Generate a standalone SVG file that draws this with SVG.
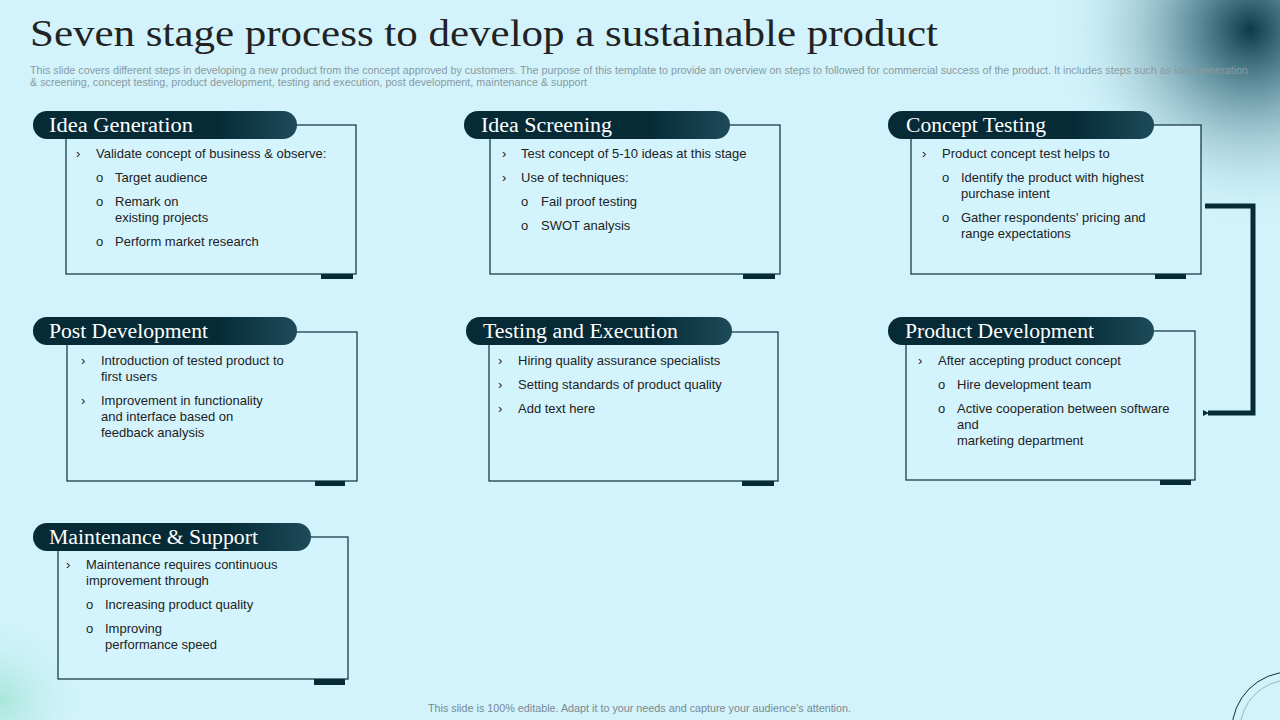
<svg xmlns="http://www.w3.org/2000/svg" width="1280" height="720" viewBox="0 0 1280 720">
<defs>
<radialGradient id="glow" cx="1250" cy="30" r="200" gradientUnits="userSpaceOnUse">
<stop offset="0" stop-color="#0d3a48"/><stop offset="0.35" stop-color="#5e8e9c" stop-opacity="0.8"/><stop offset="1" stop-color="#d2f3fc" stop-opacity="0"/>
</radialGradient>
<radialGradient id="glow2" cx="0" cy="700" r="90" gradientUnits="userSpaceOnUse">
<stop offset="0" stop-color="#a8e6d8"/><stop offset="1" stop-color="#d2f3fc" stop-opacity="0"/>
</radialGradient>
<linearGradient id="pill" x1="0" x2="1"><stop offset="0" stop-color="#062b37"/><stop offset="0.7" stop-color="#062b37"/><stop offset="1" stop-color="#1d4b59"/></linearGradient>
<marker id="arr" markerWidth="6" markerHeight="6" refX="1" refY="3" orient="auto" markerUnits="userSpaceOnUse"><path d="M6,0 L0,3 L6,6 Z" fill="#062b37"/></marker>
<style>
.box{fill:#d4f4fd;stroke:#0a2e3a;stroke-width:1.2}
.tab{fill:#062b37}
.hd{font-family:"Liberation Serif",serif;font-size:20px;fill:#fff}
.t{font-family:"Liberation Sans",Arial,sans-serif;font-size:13px;fill:#222}
</style>
</defs>
<rect width="1280" height="720" fill="#d2f3fc"/>
<rect x="1000" y="0" width="280" height="260" fill="url(#glow)"/>
<rect x="0" y="600" width="120" height="120" fill="url(#glow2)"/>
<circle cx="1290" cy="730" r="58" fill="none" stroke="#0a2e3a" stroke-width="1"/>
<circle cx="1290" cy="730" r="50" fill="none" stroke="#0a2e3a" stroke-width="0.6" opacity="0.5"/>
<text x="30" y="46" font-family="Liberation Serif,serif" font-size="37" fill="#222" textLength="908" lengthAdjust="spacingAndGlyphs">Seven stage process to develop a sustainable product</text>
<text font-family="Liberation Sans,Arial,sans-serif" font-size="10" fill="#8a9aa0"><tspan x="30" y="74" textLength="1218" lengthAdjust="spacingAndGlyphs">This slide covers different steps in developing a new product from the concept approved by customers. The purpose of this template  to provide an overview on steps to followed for commercial success of the product. It includes steps such as idea generation</tspan><tspan x="30" y="86" textLength="557" lengthAdjust="spacingAndGlyphs">&amp; screening, concept testing, product development, testing and execution, post development,  maintenance &amp; support</tspan></text>
<g id="connectors"><path d="M1205,206 H1253 V413 H1208" fill="none" stroke="#062b37" stroke-width="5" marker-end="url(#arr)"/></g>
<g id="n1"><rect class="box" x="66" y="125" width="290" height="149"/><rect class="tab" x="321" y="274" width="32" height="5"/><rect x="33" y="111" width="264" height="28" rx="14" fill="url(#pill)"/><text class="hd" x="49" y="132" textLength="144" lengthAdjust="spacingAndGlyphs">Idea Generation</text>
<text class="t"><tspan x="76" y="158">›</tspan><tspan x="96" y="158">Validate concept of business &amp; observe:</tspan><tspan x="96" y="182">o</tspan><tspan x="115" y="182">Target  audience</tspan><tspan x="96" y="206">o</tspan><tspan x="115" y="206">Remark on</tspan><tspan x="115" y="222">existing projects</tspan><tspan x="96" y="246">o</tspan><tspan x="115" y="246">Perform  market research</tspan></text></g>
<g id="n2"><rect class="box" x="490" y="125" width="290" height="149"/><rect class="tab" x="743" y="274" width="32" height="5"/><rect x="464" y="111" width="266" height="28" rx="14" fill="url(#pill)"/><text class="hd" x="481" y="132" textLength="131" lengthAdjust="spacingAndGlyphs">Idea Screening</text>
<text class="t"><tspan x="502" y="158">›</tspan><tspan x="521" y="158">Test concept of 5-10 ideas at this stage</tspan><tspan x="502" y="182">›</tspan><tspan x="521" y="182">Use of techniques:</tspan><tspan x="521" y="206">o</tspan><tspan x="541" y="206">Fail proof testing</tspan><tspan x="521" y="230">o</tspan><tspan x="541" y="230">SWOT analysis</tspan></text></g>
<g id="n3"><rect class="box" x="911" y="125" width="290" height="149"/><rect class="tab" x="1155" y="274" width="31" height="5"/><rect x="888" y="111" width="266" height="28" rx="14" fill="url(#pill)"/><text class="hd" x="906" y="132" textLength="140" lengthAdjust="spacingAndGlyphs">Concept Testing</text>
<text class="t"><tspan x="922" y="158">›</tspan><tspan x="942" y="158">Product concept test helps to</tspan><tspan x="942" y="182">o</tspan><tspan x="961" y="182">Identify the product with highest</tspan><tspan x="961" y="198">purchase intent</tspan><tspan x="942" y="222">o</tspan><tspan x="961" y="222">Gather respondents' pricing and</tspan><tspan x="961" y="238">range expectations</tspan></text></g>
<g id="n4"><rect class="box" x="67" y="332" width="290" height="149"/><rect class="tab" x="315" y="481" width="30" height="5"/><rect x="33" y="317" width="264" height="28" rx="14" fill="url(#pill)"/><text class="hd" x="49" y="338" textLength="159" lengthAdjust="spacingAndGlyphs">Post Development</text>
<text class="t"><tspan x="81" y="365">›</tspan><tspan x="101" y="365">Introduction  of tested product to</tspan><tspan x="101" y="381">first users</tspan><tspan x="81" y="405">›</tspan><tspan x="101" y="405">Improvement  in functionality</tspan><tspan x="101" y="421">and interface based on</tspan><tspan x="101" y="437">feedback analysis</tspan></text></g>
<g id="n5"><rect class="box" x="489" y="332" width="289" height="149"/><rect class="tab" x="742" y="481" width="32" height="5"/><rect x="466" y="317" width="266" height="28" rx="14" fill="url(#pill)"/><text class="hd" x="483" y="338" textLength="195" lengthAdjust="spacingAndGlyphs">Testing and Execution</text>
<text class="t"><tspan x="498" y="365">›</tspan><tspan x="518" y="365">Hiring quality assurance specialists</tspan><tspan x="498" y="389">›</tspan><tspan x="518" y="389">Setting standards of product quality</tspan><tspan x="498" y="413">›</tspan><tspan x="518" y="413">Add text here</tspan></text></g>
<g id="n6"><rect class="box" x="906" y="331" width="289" height="149"/><rect class="tab" x="1160" y="480" width="31" height="5"/><rect x="888" y="317" width="266" height="28" rx="14" fill="url(#pill)"/><text class="hd" x="905" y="338" textLength="189" lengthAdjust="spacingAndGlyphs">Product Development</text>
<text class="t"><tspan x="918" y="365">›</tspan><tspan x="938" y="365">After accepting product concept</tspan><tspan x="938" y="389">o</tspan><tspan x="957" y="389">Hire development  team</tspan><tspan x="938" y="413">o</tspan><tspan x="957" y="413">Active cooperation between software</tspan><tspan x="957" y="429">and</tspan><tspan x="957" y="445">marketing department</tspan></text></g>
<g id="n7"><rect class="box" x="58" y="537" width="290" height="142"/><rect class="tab" x="314" y="679" width="31" height="6"/><rect x="33" y="523" width="278" height="28" rx="14" fill="url(#pill)"/><text class="hd" x="49" y="544" textLength="209" lengthAdjust="spacingAndGlyphs">Maintenance &amp; Support</text>
<text class="t"><tspan x="66" y="569">›</tspan><tspan x="86" y="569">Maintenance requires continuous</tspan><tspan x="86" y="585">improvement  through</tspan><tspan x="86" y="609">o</tspan><tspan x="105" y="609">Increasing product quality</tspan><tspan x="86" y="633">o</tspan><tspan x="105" y="633">Improving</tspan><tspan x="105" y="649">performance  speed</tspan></text></g>
<text x="428" y="712" font-family="Liberation Sans,Arial,sans-serif" font-size="10.5" fill="#7a8a90" textLength="423" lengthAdjust="spacingAndGlyphs">This slide is 100% editable.  Adapt it to your needs and capture your audience's attention.</text>
</svg>
